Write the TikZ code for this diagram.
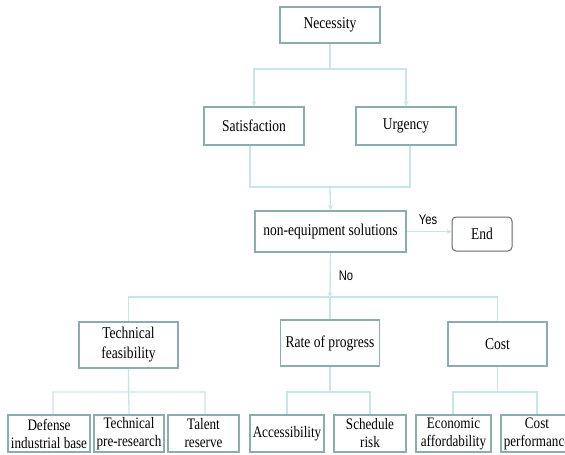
\documentclass[tikz,border=0pt]{standalone}
\usepackage{fontspec}
\setmainfont[FakeStretch=0.82]{Liberation Serif}
\newfontfamily\yesnofont[FakeStretch=0.8]{Liberation Sans}
\usetikzlibrary{arrows.meta}
\definecolor{boxc}{HTML}{8AAEB0}
\definecolor{linec}{HTML}{C6E6EB}
\begin{document}
\begin{tikzpicture}[x=1pt,y=-1pt]
		\useasboundingbox (0,0) rectangle (565,455);
		\tikzstyle{every node}=[draw=boxc,line width=1.7pt,shape=rectangle,align=center,inner sep=0pt,font=\fontsize{16.5}{20}\selectfont];
		\tikzstyle{small}=[font=\fontsize{16}{18}\selectfont];
		\tikzstyle{con}=[draw=linec,line width=1.3pt];
		\tikzstyle{arr}=[con,-{Stealth[length=5pt,width=5pt]}];
		\tikzstyle{lab}=[draw=none,font=\yesnofont\fontsize{14}{14}\selectfont];
		% top part
		\node[minimum width=100,minimum height=36] (nec) at (330,25) {Necessity};
		\node[minimum width=100,minimum height=38] (sat) at (254,126) {Satisfaction};
		\node[minimum width=100,minimum height=38] (urg) at (406,126) {Urgency};
		\node[minimum width=151,minimum height=41] (neq) at (330.5,231.5) {non-equipment solutions};
		\node[draw=black!60,line width=1pt,rounded corners=4pt,minimum width=60,minimum height=34] (end) at (482,234) {End};
		\node[lab] (yes) at (428,220) {Yes};
		\node[lab] (no) at (346,276) {No};
		% second level
		\node[minimum width=99,minimum height=46] (tf) at (128.5,345) {Technical\\feasibility};
		\node[minimum width=99,minimum height=46] (rp) at (330,343) {Rate of progress};
		\node[minimum width=99,minimum height=44] (co) at (497.5,344) {Cost};
		% third level
		\node[small,minimum width=82,minimum height=37] (d1) at (49,433.5) {Defense\\industrial base};
		\node[small,minimum width=70,minimum height=37] (d2) at (129,433.5) {Technical\\pre-research};
		\node[small,minimum width=71,minimum height=37] (d3) at (203.5,433.5) {Talent\\reserve};
		\node[small,minimum width=74,minimum height=37] (d4) at (287,433.5) {Accessibility};
		\node[small,minimum width=72,minimum height=37] (d5) at (370,433.5) {Schedule\\risk};
		\node[small,minimum width=75,minimum height=37] (d6) at (453.5,433.5) {Economic\\affordability};
		\node[small,minimum width=72,minimum height=37] (d7) at (537,433.5) {Cost\\performance};
		\coordinate (bus) at (330,297);
		\draw[con] (nec.south) -- ++(0,25) coordinate (b1);
		\draw[arr] (b1) -| (sat.north);
		\draw[arr] (b1) -| (urg.north);
		\draw[con] (sat.south -| 250,0) |- (330,187) coordinate (b2)
		(urg.south -| 410,0) |- (b2);
		\draw[arr] (b2) -- (neq.north);
		\draw[arr] (neq.east) -- (neq.east -| end.west);
		\draw[arr] (neq.south) -- (bus);
		\draw[con] (bus) -| (tf.north)
		(bus) -- (rp.north)
		(bus) -| (co.north);
		\draw[con] (tf.south) |- (53,392) -- (d1.north -| 53,0)
		(tf.south) -- (d2.north)
		(tf.south) |- (205,392) -- (d3.north -| 205,0);
		\draw[con] (rp.south) |- (d4.north |- 0,392) -- (d4.north)
		(rp.south) |- (d5.north |- 0,392) -- (d5.north);
		\draw[con] (co.south) |- (453,392) -- (d6.north -| 453,0)
		(co.south) |- (537,392) -- (d7.north);
		\end{tikzpicture}
\end{document}
